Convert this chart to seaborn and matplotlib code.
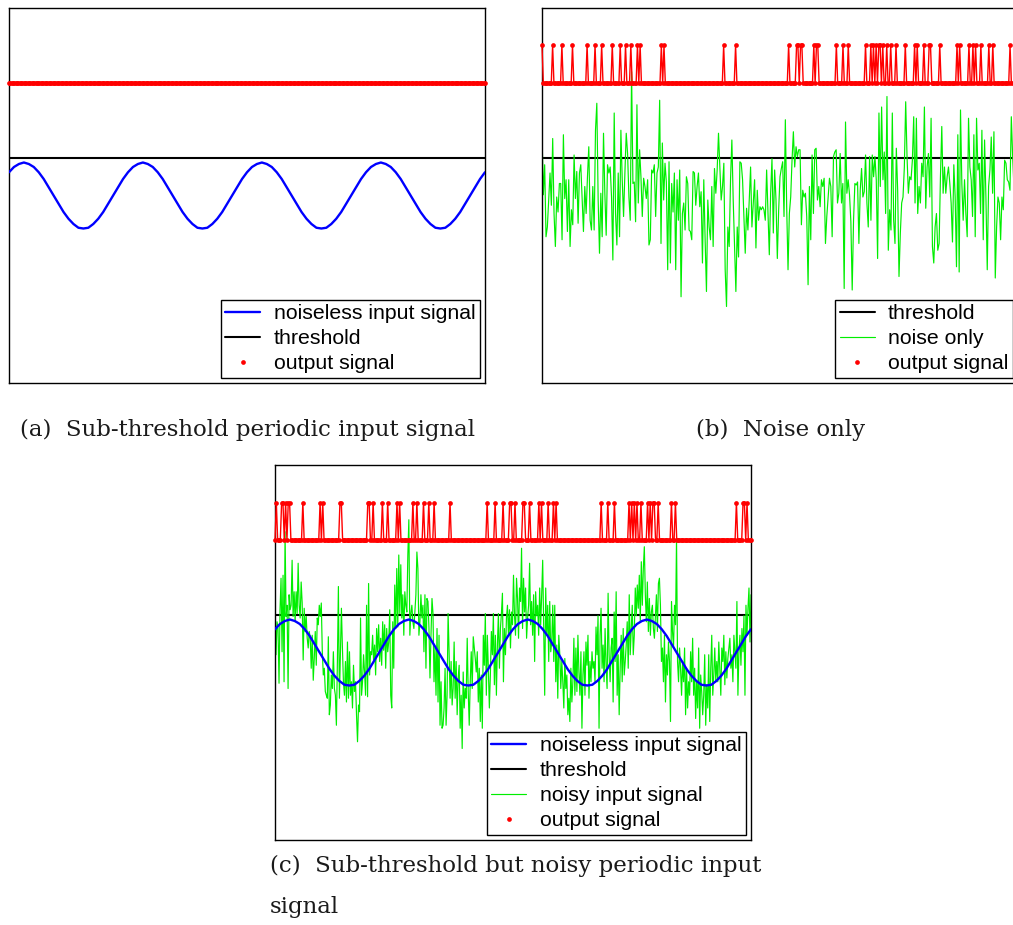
import numpy as np
import matplotlib
matplotlib.use("Agg")
import matplotlib.pyplot as plt
from matplotlib.lines import Line2D
import seaborn as sns

# ---------------- data ----------------
threshold = 0.0

# noiseless periodic input (4 periods, sampled every 15 degrees)
sine_signal = [
    -0.19, -0.12, -0.08, -0.06, -0.08, -0.12, -0.19, -0.28, -0.39, -0.50, -0.61, -0.72,
    -0.81, -0.88, -0.93, -0.94, -0.93, -0.88, -0.81, -0.72, -0.61, -0.50, -0.39, -0.28,
    -0.19, -0.12, -0.08, -0.06, -0.08, -0.12, -0.19, -0.28, -0.39, -0.50, -0.61, -0.72,
    -0.81, -0.88, -0.93, -0.94, -0.93, -0.88, -0.81, -0.72, -0.61, -0.50, -0.39, -0.28,
    -0.19, -0.12, -0.08, -0.06, -0.08, -0.12, -0.19, -0.28, -0.39, -0.50, -0.61, -0.72,
    -0.81, -0.88, -0.93, -0.94, -0.93, -0.88, -0.81, -0.72, -0.61, -0.50, -0.39, -0.28,
    -0.19, -0.12, -0.08, -0.06, -0.08, -0.12, -0.19, -0.28, -0.39, -0.50, -0.61, -0.72,
    -0.81, -0.88, -0.93, -0.94, -0.93, -0.88, -0.81, -0.72, -0.61, -0.50, -0.39, -0.28,
    -0.19,
]

# (b) noise only
noise_only = [
    0.33, -0.49, -0.09, -1.05, -0.92, -0.56, -0.20, -0.63, 0.26, -0.74, -1.18, -0.52,
    -0.72, -0.34, -0.34, -1.09, 0.31, -0.54, -0.29, -0.98, -0.29, -1.18, -0.69, -0.89,
    0.04, -0.54, -0.18, -0.87, -0.20, -0.09, -0.52, -0.98, -0.38, -0.74, -0.25, 0.15,
    -0.83, -0.96, -0.38, -0.96, 0.37, 0.73, -0.56, -1.27, -0.47, -1.05, 0.33, -0.47,
    -1.03, -0.09, -0.20, -0.12, -0.52, -1.36, 0.60, -0.74, -1.16, -0.20, -1.05, 0.37,
    -0.29, -0.78, -0.20, 0.33, 0.06, -0.52, -0.83, 1.15, -0.34, -0.32, -0.85, 0.71,
    -0.60, 0.11, -0.25, -0.78, -0.27, -0.38, -0.54, -0.29, -1.16, -1.09, -0.16, -0.20,
    -0.09, -0.78, -0.20, -0.12, 0.77, -1.14, 0.20, -0.56, -0.07, -0.32, -1.49, -0.05,
    -1.40, -0.34, -0.72, -0.20, -1.49, -0.29, -0.83, -0.16, -1.85, -0.74, -0.60, -0.96,
    -0.25, -0.34, -0.96, -0.98, -1.09, -0.18,
    -0.20, -0.63, -0.38, -0.20, -0.65, -0.45, -1.40, -0.29, -1.09, -1.78, -0.56, -0.92,
    -1.09, -0.38, -1.18, -0.14, -0.47, -0.16, 0.33, -0.12, -0.56, -0.38, -0.07, -1.49,
    -1.98, -0.92, -1.18, -0.29, 0.24, -0.56, -1.18, -1.78, -0.92, -1.32, -0.05, -0.07,
    -0.29, -0.78, -1.27, -0.67, -0.96, -0.56, -0.12, -0.92, -0.60, -0.29, -1.20, -0.43,
    -0.83, -0.65, -0.69, -0.65, -0.69, -0.83, -0.16, -0.74, -1.29, -0.47, -0.01, -1.00,
    -0.16, -0.56, -1.34, -0.69, -0.25, -0.14, -0.05, -0.78, 0.51, -0.65, -1.49, -0.74,
    -0.52, -0.03, 0.35, -0.12, 0.15, 0.02, 0.11, 0.11, -0.89, -0.43, -0.52, -0.47,
    -0.78, -1.69, -0.38, -1.09, 0.04, -0.74, 0.11, 0.13, -0.56, -0.38, -0.65, -0.29,
    -0.38, -0.27, -1.14, -0.78, -0.52, -0.27, -0.38, -1.05, 0.02, 0.08, 0.11, -0.60,
    -0.47, 0.06, -0.60, -0.34, -1.74, 0.48, -0.47, -0.29, -0.49, -0.85, -1.76, -0.83,
    -0.34, -0.36,
    -0.32, -1.14, -0.43, -0.14, -0.52, -0.45, 0.04, -0.60, -0.92, 0.02, -0.83, 0.04,
    -0.25, 0.02, -0.29, -1.34, 0.60, -0.38, 0.68, -0.29, 0.08, -0.74, 0.82, -1.23,
    -0.69, -0.96, 0.60, -0.83, -1.14, 0.13, -0.43, -1.58, -1.00, -0.60, -0.52, -0.12,
    0.75, 0.02, -0.47, -0.25, -0.29, -0.03, 0.55, -0.60, 0.53, -0.74, -0.38, -0.60,
    -0.07, -0.25, 0.68, -0.67, -0.12, 0.06, -0.52, 0.53, -1.18, -1.40, -0.92, -0.74,
    -1.23, -1.14, -0.25, 0.42, -0.47, -0.12, -0.47, -0.25, -0.12, -0.34, -0.60, -1.12,
    -0.09, -0.52, -1.45, 0.31, -1.52, 0.64, -0.34, -0.83, -0.29, -0.74, -1.05, 0.53,
    -0.12, -0.29, -0.78, 0.31, -1.05, 0.53, -0.16, -0.07, -0.74, 0.37, -1.09, 0.24,
    -0.52, -1.49, -0.38, -0.16, 0.28, -0.47, 0.35, -1.60, -0.92, -0.52, -0.60, -1.09,
    -0.52, -0.69, -0.03, -0.07, -0.29, -0.32, -0.43, 0.55, 0.02, -0.40, -0.75, -0.30,
    -0.55,
]

# (c) noisy input signal (periodic input + noise)
noisy_input = [
    0.22, -0.53, -0.09, -0.18, -0.91, 0.07, 0.49, -0.49, 0.53, -0.89, 1.11, -0.02,
    0.13, -0.98, 0.27, 0.07, 0.13, 0.73, -0.02, 0.31, -0.09, 0.31, 0.02, 0.69,
    0.13, -0.04, 0.44, 0.16, -0.60, 0.09, -0.22, -0.02, -0.31, -0.44, -0.22, -0.31,
    -0.71, -0.27, -0.87, -0.58, -0.22, -0.67, -0.04, -0.13, 0.13, -0.02, 0.16, -0.49,
    -0.80, -0.71, -1.02, -1.07, -1.11, -0.29, -1.33, -1.20, -0.80, -0.98, -0.49, -0.98,
    -1.07, -1.47, -0.62, 0.38, -1.11, -0.49, 0.09, -0.44, -0.89, -1.07, -0.62, -1.16,
    -0.36, -1.11, -0.49, -1.07, -0.89, -1.24, -0.67, -1.02, -0.89, -1.33, -1.69, -1.20,
    -1.29, -0.04, -1.07, -0.89, -0.53, -0.76, -1.07, 0.13, -1.09, 0.42, -0.80, -0.49,
    -0.53, -0.27, -0.62, -0.40, -0.80, -0.18, -0.49, -0.13, -0.62, -0.31, -0.67, -0.09,
    -0.47, -0.13, -0.71, -0.18, -0.49, -0.36, 0.07, -1.07, -1.24, -0.09, -0.71, 0.40,
    -0.18, 0.62, -0.16, 0.80, 0.02, 0.67, -0.04, 0.27, -0.27, 0.31, 0.13, 0.04,
    0.80, 1.27, -0.27, 0.02, 0.13, -0.09, -0.18, 0.04, 0.27, 0.84, 0.62, -0.27,
    -0.09, 0.27, -0.04, 0.13, -0.49, 0.27, -0.71, 0.22, 0.18, -0.18, -0.84, -0.27,
    0.22,
    0.02, -0.89, -0.44, -1.07, -0.18, -1.16, -0.27, -1.47, -0.89, -1.51, -1.47, -1.24,
    -0.71, -1.47, -1.07, 0.02, -0.49, -1.11, -0.62, -1.20, -0.98, -0.36, -1.11, -0.62,
    -1.33, -0.84, -0.67, -1.51, -1.07, -1.78, -0.76, -1.24, -0.98, -1.11, -0.31, -1.02,
    -1.47, -0.89, -0.49, -0.98, -0.29, -0.44, -0.58, -0.76, -0.49, -1.16, -0.71, -1.42,
    -0.80, -1.51, -0.27, -0.67, 0.02, -1.07, -0.27, -0.71, -1.24, -0.80, -0.22, -0.53,
    0.02, -0.93, -0.27, -1.07, -0.40, 0.02, -0.71, -0.18, 0.02, 0.29, -0.89, -0.18,
    -0.53, -0.04, 0.13, -0.27, 0.07, -0.44, 0.04, -0.13, 0.53, -0.01, -0.27, 0.49,
    0.22, -0.31, 0.36, 0.18, 0.89, -0.18, 0.49, 0.04, 0.36, -0.31, -0.04, 0.13,
    0.69, -0.13, 0.18, -0.27, 0.27, -0.62, 0.31, -0.01, 0.13, -0.27, 0.36, -0.13,
    0.27, 0.73, -0.18, -1.07, 0.36, -0.27, 0.13, -0.62, 0.18, -0.49, -0.36, 0.13,
    -0.62, 0.13, -0.89, -0.40, -1.11, -0.27, -0.53, -0.98, -0.62, -0.89, -1.24, -0.58,
    -0.98, -0.80, -1.33, -1.11, -1.42, -0.71, -1.16, -0.89, -0.31, -1.07, -0.44, -1.02,
    -0.27, -0.76, -1.07, -0.49, -1.51, -0.80, -0.49, -1.07, -0.36, -0.67, -0.27, -1.11,
    -0.62, -0.89, -0.49, -0.71,
    -0.62, -0.89, -0.16, -0.53, -0.01, -1.51, -0.27, 0.09, -0.71, -0.40, -0.89, -0.18,
    -0.67, -0.98, 0.29, -0.53, -0.89, -0.44, -0.31, -1.16, 0.04, -0.62, 0.31, -1.07,
    -0.53, -1.33, -0.71, -0.27, -0.89, -0.18, -0.80, -0.62, -0.40, -0.09, -0.71, 0.27,
    -0.53, -0.18, 0.13, -0.53, -0.27, 0.36, -0.01, 0.40, 0.09, 0.53, -0.09, 0.71,
    0.13, 0.62, 0.91, 0.27, -0.09, 0.44, -0.22, 0.22, -0.27, 0.04, 0.13, -0.18,
    -0.31, -0.01, 0.27, -0.22, 0.42, 0.49, 0.13, -0.62, -0.44, -0.89, -0.27, -1.16,
    -0.53, -0.80, -0.36, -0.62, -1.42, 0.18, -0.22, -0.44, 0.13, -0.13, 1.02, -0.62,
    -0.89, -0.44, -0.71, -1.07, -0.62, -0.89, -0.44, -1.33, -0.71, -1.24, -0.89, -1.07,
    -0.49, -0.89, -0.31, -1.07, -0.71, -1.38, -0.89, -1.24, -0.44, -1.51, -0.80, -1.02,
    -1.33, -1.07, -0.53, -1.47, -0.93, -1.24, -0.53, -1.42, -0.71, -0.27, -1.07, -0.80,
    -0.44, -0.89, -0.62, -0.89, -0.36, -0.71, -1.07, -0.44, -0.62, -0.27, -0.93, -0.49,
    -0.84, -0.58, -0.44, -0.31, -0.71, -0.53, -0.89, -0.27, -0.49, -0.71, 0.18, -1.07,
    -0.49, -0.27, -0.67, -0.18, -0.49, -0.01, -1.07, 0.13, -0.27, 0.09, 0.36, -0.36,
    0.27,
]

# output spike times (fraction of the displayed time window)
spikes_b = [
    0.001, 0.021, 0.043, 0.063, 0.096, 0.111, 0.124, 0.148, 0.163, 0.176, 0.186, 0.200,
    0.205, 0.251, 0.255, 0.381, 0.408, 0.517, 0.534, 0.538, 0.543, 0.546, 0.572, 0.576,
    0.580, 0.618, 0.633, 0.643, 0.681, 0.692, 0.697, 0.702, 0.707, 0.711, 0.717, 0.723,
    0.732, 0.745, 0.763, 0.782, 0.787, 0.803, 0.812, 0.817, 0.837, 0.872, 0.877, 0.896,
    0.906, 0.912, 0.923, 0.938, 0.947, 0.984,
]
spikes_c = [
    0.002, 0.014, 0.018, 0.023, 0.028, 0.032, 0.059, 0.096, 0.100, 0.136, 0.140, 0.194,
    0.199, 0.205, 0.226, 0.236, 0.257, 0.261, 0.289, 0.298, 0.313, 0.322, 0.333, 0.368,
    0.445, 0.463, 0.480, 0.493, 0.497, 0.505, 0.520, 0.525, 0.535, 0.555, 0.560, 0.575,
    0.586, 0.591, 0.684, 0.700, 0.714, 0.744, 0.749, 0.754, 0.760, 0.768, 0.784, 0.789,
    0.794, 0.798, 0.804, 0.832, 0.842, 0.969, 0.982, 0.987, 0.991,
]

captions = [
    "(a)  Sub-threshold periodic input signal",
    "(b)  Noise only",
    "(c)  Sub-threshold but noisy periodic input\nsignal",
]

# ---------------- style ----------------
sns.set_theme(style="white")
plt.rcParams["font.family"] = ["Liberation Sans", "DejaVu Sans"]

RED, BLUE, GREEN, BLACK = "#ff0000", "#0000ff", "#00ee00", "#000000"
OUT_BASE, OUT_HEIGHT = 1.0, 0.5
N_OUT = 360
LEG_FS = 15.3
CAP_FS = 16.5

W, H = 1013, 925
fig = plt.figure(figsize=(W / 100, H / 100), dpi=100)


def add_panel(left, top):
    ax = fig.add_axes([left / W, 1 - (top + 375) / H, 476 / W, 375 / H])
    ax.set_xlim(0, 1)
    ax.set_ylim(-3, 2)
    ax.set_xticks([])
    ax.set_yticks([])
    for s in ax.spines.values():
        s.set_visible(True)
        s.set_color("black")
        s.set_linewidth(1.0)
    return ax


def output_levels(spike_times):
    out = np.zeros(N_OUT)
    idx = np.round(np.asarray(spike_times) * (N_OUT - 1)).astype(int)
    out[idx] = 1
    return OUT_BASE + OUT_HEIGHT * out


def draw_output(ax, spike_times):
    t = np.linspace(0, 1, N_OUT)
    sns.lineplot(x=t, y=output_levels(spike_times), ax=ax, color=RED, linewidth=1.0,
                 marker="o", markersize=3.4, markeredgewidth=0, legend=False,
                 clip_on=False, zorder=3)


def draw_sine(ax):
    t = np.linspace(0, 1, len(sine_signal))
    sns.lineplot(x=t, y=sine_signal, ax=ax, color=BLUE, linewidth=1.7, legend=False, zorder=4)


def draw_threshold(ax):
    ax.axhline(threshold, color=BLACK, linewidth=1.5, zorder=2)


def draw_green(ax, values):
    t = np.linspace(0, 1, len(values))
    sns.lineplot(x=t, y=values, ax=ax, color=GREEN, linewidth=0.85, legend=False, zorder=2.5)


h_sine = Line2D([], [], color=BLUE, linewidth=1.7)
h_thr = Line2D([], [], color=BLACK, linewidth=1.5)
h_noise = Line2D([], [], color=GREEN, linewidth=0.85)
h_out = Line2D([], [], color=RED, linestyle="none", marker="o", markersize=3.4, markeredgewidth=0)


def add_legend(ax, handles, labels):
    leg = ax.legend(handles, labels, loc="lower right", fontsize=LEG_FS, frameon=True,
                    fancybox=False, shadow=False, framealpha=1, edgecolor="black",
                    borderpad=0.22, labelspacing=0.28, handlelength=1.65, handletextpad=0.62,
                    borderaxespad=0.24, labelcolor="black")
    leg.get_frame().set_linewidth(1.0)
    leg.set_zorder(10)


# (a)
ax_a = add_panel(9, 8)
draw_threshold(ax_a)
draw_sine(ax_a)
draw_output(ax_a, [])
add_legend(ax_a, [h_sine, h_thr, h_out],
           ["noiseless input signal", "threshold", "output signal"])

# (b)
ax_b = add_panel(542, 8)
draw_threshold(ax_b)
draw_green(ax_b, noise_only)
draw_output(ax_b, spikes_b)
add_legend(ax_b, [h_thr, h_noise, h_out], ["threshold", "noise only", "output signal"])

# (c)
ax_c = add_panel(275, 465)
draw_threshold(ax_c)
draw_green(ax_c, noisy_input)
draw_sine(ax_c)
draw_output(ax_c, spikes_c)
add_legend(ax_c, [h_sine, h_thr, h_noise, h_out],
           ["noiseless input signal", "threshold", "noisy input signal", "output signal"])

cap_kw = dict(fontsize=CAP_FS, family=["DejaVu Serif"], color="#1a1a1a")
fig.text(247 / W, 1 - 430 / H, captions[0], ha="center", va="center", **cap_kw)
fig.text(781 / W, 1 - 430 / H, captions[1], ha="center", va="center", **cap_kw)
cap_c_lines = captions[2].split("\n")
fig.text(270 / W, 1 - 866 / H, cap_c_lines[0], ha="left", va="center", **cap_kw)
fig.text(270 / W, 1 - 907 / H, cap_c_lines[1], ha="left", va="center", **cap_kw)

fig.savefig("out.png", dpi=100)
